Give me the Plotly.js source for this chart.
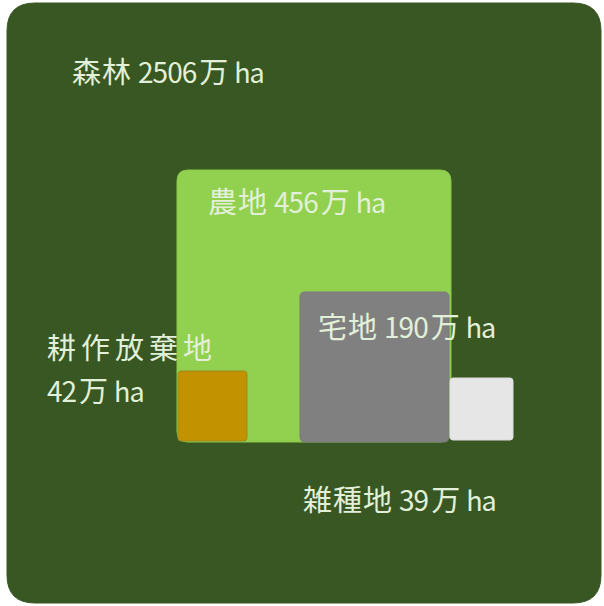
<!DOCTYPE html>
<html><head><meta charset="utf-8">
<script src="https://cdn.plot.ly/plotly-3.0.1.min.js"></script>
<style>html,body{margin:0;padding:0;background:#fff}</style>
</head><body><div id="chart" style="width:604px;height:606px"></div>
<script>
// ---- data ----
const categories = ['森林', '農地', '宅地', '耕作放棄地', '雑種地'];
const values = [2506, 456, 190, 42, 39];
const unitMan = '万';
const unitHa = 'ha';

// ---- layout geometry (pixel-like canvas, not data) ----
const boxes = [
  {x0: 7,   y0: 3,   x1: 601, y1: 603, r: 28, fill: '#385723', line: '#385723'},
  {x0: 177, y0: 170, x1: 451, y1: 442, r: 11, fill: '#92D050', line: '#8ac84a'},
  {x0: 300, y0: 292, x1: 449, y1: 442, r: 5,  fill: '#808080', line: '#7a7a7a'},
  {x0: 178, y0: 371, x1: 247, y1: 441, r: 3,  fill: '#C39200', line: '#9a8a20'},
  {x0: 450, y0: 378, x1: 513, y1: 440, r: 3,  fill: '#E7E6E6', line: '#dcdcdc'}
];
const labelPos = [
  {x: 70,  y: 70,  split: false, ls: 1},
  {x: 206, y: 200, split: false, ls: 1},
  {x: 316, y: 325, split: false, ls: 1},
  {x: 45,  y: 346, y2: 389, split: true, ls: 5},
  {x: 301, y: 498, split: false, ls: 1}
];

function rr(b) {
  const {x0, y0, x1, y1, r} = b;
  return `M ${x0 + r} ${y0} L ${x1 - r} ${y0} Q ${x1} ${y0} ${x1} ${y0 + r} ` +
         `L ${x1} ${y1 - r} Q ${x1} ${y1} ${x1 - r} ${y1} ` +
         `L ${x0 + r} ${y1} Q ${x0} ${y1} ${x0} ${y1 - r} ` +
         `L ${x0} ${y0 + r} Q ${x0} ${y0} ${x0 + r} ${y0} Z`;
}

const shapes = boxes.map(b => ({
  type: 'path', xref: 'x', yref: 'y', path: rr(b),
  fillcolor: b.fill, line: {color: b.line, width: 1}, layer: 'below'
}));

// mixed-width typesetting: wide CJK, narrower Latin digits, gaps between scripts
function nameHtml(name, ls, trailingGap) {
  const chars = Array.from(name);
  return chars.map((ch, i) =>
    `<span style="letter-spacing:${i === chars.length - 1 ? trailingGap : ls}px">${ch}</span>`).join('');
}
function valueHtml(v) {
  const d = Array.from(String(v));
  const digits = d.map((ch, i) =>
    `<span style="font-size:28px;letter-spacing:${i === d.length - 1 ? 2 : -1}px">${ch}</span>`).join('');
  return digits + `<span style="letter-spacing:6px">${unitMan}</span>` +
         `<span style="font-size:27px;letter-spacing:-1px">${unitHa}</span>`;
}

const font = {family: '"Noto Sans CJK JP", "Noto Sans", sans-serif', size: 29, color: '#E2F0D9'};
const annotations = [];
categories.forEach((c, i) => {
  const p = labelPos[i];
  const base = {xref: 'x', yref: 'y', showarrow: false, xanchor: 'left', yanchor: 'middle', font};
  if (p.split) {
    annotations.push(Object.assign({x: p.x, y: p.y, text: nameHtml(c, p.ls, 0)}, base));
    annotations.push(Object.assign({x: p.x, y: p.y2, text: valueHtml(values[i])}, base));
  } else {
    annotations.push(Object.assign({x: p.x, y: p.y, text: nameHtml(c, p.ls, 7) + valueHtml(values[i])}, base));
  }
});

const layout = {
  width: 604, height: 606,
  margin: {l: 0, r: 0, t: 0, b: 0},
  paper_bgcolor: '#ffffff', plot_bgcolor: '#ffffff',
  xaxis: {range: [0, 604], visible: false, fixedrange: true},
  yaxis: {range: [606, 0], visible: false, fixedrange: true},
  shapes, annotations, showlegend: false
};

Plotly.newPlot('chart', [{x: [], y: [], type: 'scatter', hoverinfo: 'skip'}], layout, {staticPlot: true});
</script></body></html>
